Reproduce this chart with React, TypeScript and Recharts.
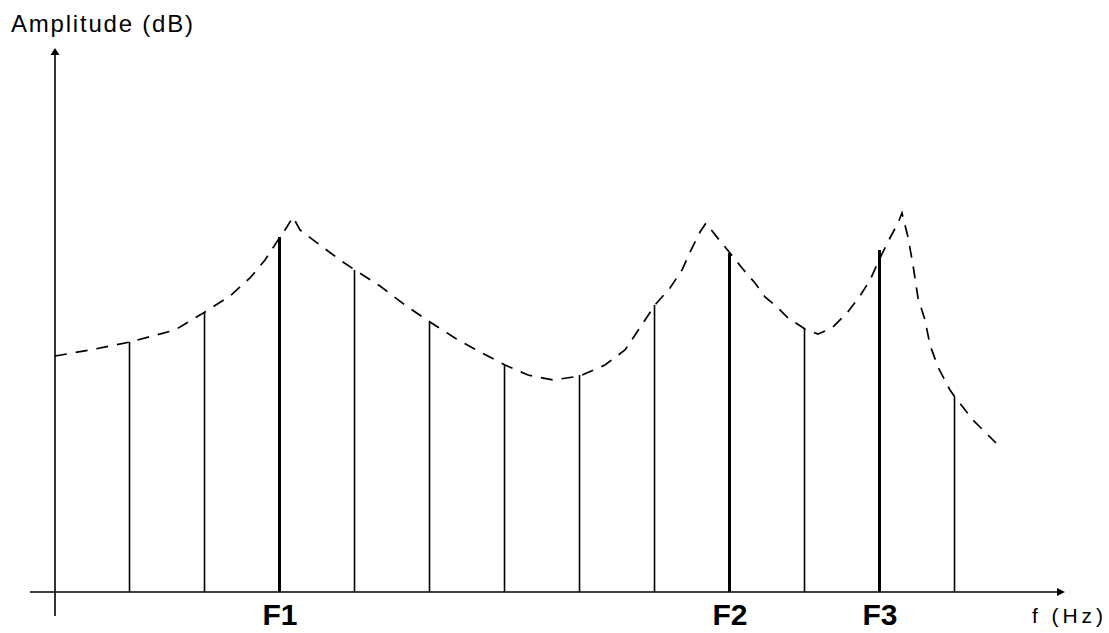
import React from 'react';
import { ComposedChart, Bar, Line, XAxis, YAxis, ReferenceLine } from 'recharts';

// harmonics: index of the harmonic, level (arbitrary dB units), formant label
const harmonicIndex = [1, 2, 3, 4, 5, 6, 7, 8, 9, 10, 11, 12];
const harmonicLevel = [25.0, 28.0, 35.5, 32.2, 27.0, 22.7, 21.7, 28.7, 33.9, 26.3, 34.2, 19.5];
const formantNames: Record<number, string> = { 3: 'F1', 9: 'F2', 11: 'F3' };

// spectral envelope (dashed curve)
const envelopeX = [
  0, 0.467, 1, 1.6, 2, 2.333, 2.6, 2.8, 3, 3.067, 3.173, 3.267, 3.533, 3.8, 4, 4.333, 4.667, 5,
  5.333, 5.667, 6, 6.307, 6.64, 7, 7.333, 7.6, 7.84, 8, 8.2, 8.36, 8.467, 8.6, 8.68, 8.867, 9,
  9.16, 9.333, 9.467, 9.627, 9.773, 10, 10.173, 10.36, 10.56, 10.733, 10.867, 11, 11.133, 11.24,
  11.293, 11.373, 11.44, 11.507, 11.6, 11.667, 11.773, 11.933, 12, 12.24, 12.547,
];
const envelopeY = [
  23.6, 24.2, 25.0, 26.2, 28.0, 29.6, 31.4, 33.2, 35.5, 36.2, 37.5, 36.2, 34.7, 33.2, 32.2, 30.6, 28.7, 27.0,
  25.4, 24.0, 22.7, 21.7, 21.2, 21.6, 22.7, 24.2, 26.9, 28.7, 30.4, 32.2, 34.0, 36.0, 36.9, 35.1, 33.9,
  32.4, 30.9, 29.5, 28.5, 27.4, 26.3, 25.8, 26.4, 27.9, 29.6, 31.2, 33.4, 35.4, 36.9,
  37.9, 35.5, 32.7, 29.4, 27.2, 24.7, 22.5, 20.2, 19.5, 17.2, 14.9,
];

type Row = { n: number; env?: number; level?: number; formant?: string };

const rows: Row[] = envelopeX.map((n, i) => ({ n, env: envelopeY[i] }));
harmonicIndex.forEach((n, i) => {
  const row = rows.find((r) => r.n === n);
  if (row) {
    row.level = harmonicLevel[i];
    row.formant = formantNames[n];
  } else {
    rows.push({ n, level: harmonicLevel[i], formant: formantNames[n] });
  }
});
rows.sort((a, b) => a.n - b.n);

const font = '"Liberation Sans", Arial, sans-serif';

const Arrow = ({ x1, y1, x2, y2, len, half }: any) => {
  const a = Math.atan2(y2 - y1, x2 - x1);
  const bx = x2 - len * Math.cos(a);
  const by = y2 - len * Math.sin(a);
  const px = -Math.sin(a) * half;
  const py = Math.cos(a) * half;
  return (
    <g>
      <line x1={x1} y1={y1} x2={bx} y2={by} stroke="#000" strokeWidth={1.6} />
      <polygon points={`${x2},${y2} ${bx + px},${by + py} ${bx - px},${by - py}`} fill="#000" />
    </g>
  );
};

const HarmonicLine = (props: any) => {
  const { x, y, width, height, payload } = props;
  if (height == null || isNaN(height)) return null;
  const cx = x + width / 2;
  return (
    <line
      x1={cx}
      x2={cx}
      y1={y}
      y2={y + height}
      stroke="#000"
      strokeWidth={payload.formant ? 3 : 1.6}
    />
  );
};

const FormantTick = (props: any) => {
  const { x, y, payload } = props;
  return (
    <text x={x} y={y + 25} textAnchor="middle" fontFamily={font} fontWeight="bold" fontSize={30} fill="#000">
      {formantNames[payload.value]}
    </text>
  );
};

export default function App() {
  return (
    <div style={{ position: 'absolute', left: 0, top: 0, background: '#fff' }}>
      <ComposedChart
        width={1109}
        height={633}
        data={rows}
        margin={{ top: 48, right: 44, left: 30, bottom: 11 }}
      >
        <XAxis
          dataKey="n"
          type="number"
          domain={[-1 / 3, 13.4667]}
          ticks={[3, 9, 11]}
          axisLine={false}
          tickLine={false}
          height={30}
          tick={<FormantTick />}
          allowDataOverflow
        />
        <YAxis hide type="number" domain={[0, 54.4]} allowDataOverflow />
        <ReferenceLine
          y={0}
          shape={(p: any) => <Arrow x1={p.x1} y1={p.y1} x2={p.x2} y2={p.y2} len={8} half={4} />}
        />
        <ReferenceLine
          segment={[{ x: 0, y: -2.4 }, { x: 0, y: 54.4 }]}
          ifOverflow="visible"
          shape={(p: any) => <Arrow x1={p.x1} y1={p.y1} x2={p.x2} y2={p.y2} len={7} half={4.5} />}
        />
        <Bar dataKey="level" barSize={3} shape={<HarmonicLine />} isAnimationActive={false} />
        <Line
          dataKey="env"
          type="linear"
          stroke="#000"
          strokeWidth={1.7}
          strokeDasharray="12 9"
          dot={false}
          activeDot={false}
          isAnimationActive={false}
        />
        <text x={11} y={32} fontFamily={font} fontSize={24} textLength={182} lengthAdjust="spacing" fill="#000">
          Amplitude (dB)
        </text>
        <text x={1032} y={623} fontFamily={font} fontSize={21} textLength={71} lengthAdjust="spacing" fill="#000">
          f (Hz)
        </text>
      </ComposedChart>
    </div>
  );
}
